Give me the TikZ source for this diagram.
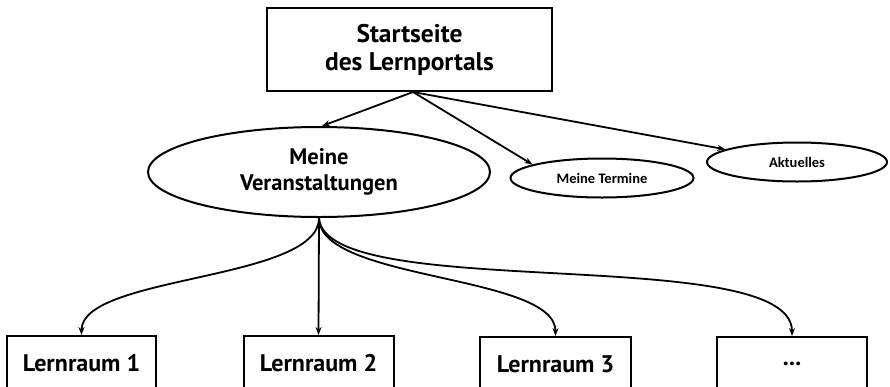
\documentclass[tikz,border=0pt]{standalone}
\usepackage{fontspec}
\setmainfont{PT Sans}
\newfontfamily\carl{Carlito}
\usetikzlibrary{shapes.geometric,arrows.meta}
\begin{document}
\begin{tikzpicture}[x=1pt,y=-1pt,
  line width=2pt,
  box/.style={draw,rectangle,inner sep=0pt,align=center,font=\bfseries\fontsize{24}{28}\selectfont},
  ell/.style={draw,ellipse,inner sep=0pt,align=center},
  small/.style={font=\carl\bfseries\fontsize{14.5}{17}\selectfont},
  arr/.style={-{Stealth[length=8pt,width=6pt]},line width=1.8pt},
]
\useasboundingbox (0,0) rectangle (890,386);
\clip (0,0) rectangle (890,386);
\node[box,minimum width=285pt,minimum height=83pt,font=\bfseries\fontsize{25.5}{28}\selectfont] (top) at (409.5,49.5) {Startseite\\des Lernportals};
\node[ell,minimum width=342pt,minimum height=90pt,font=\bfseries\fontsize{22.5}{26}\selectfont] (ve) at (319,172) {Meine\\Veranstaltungen};
\node[ell,small,minimum width=183pt,minimum height=39pt] (mt) at (602,178) {Meine Termine};
\node[ell,small,minimum width=180pt,minimum height=39pt] (ak) at (797,162) {Aktuelles};
\node[box,anchor=north,minimum width=149pt,minimum height=54pt] (l1) at (81.5,335) {Lernraum 1};
\node[box,anchor=north,minimum width=150pt,minimum height=54pt] (l2) at (318.5,335) {Lernraum 2};
\node[box,anchor=north,minimum width=151pt,minimum height=54pt] (l3) at (555.5,336) {Lernraum 3};
\node[box,anchor=north,minimum width=150pt,minimum height=54pt] (dots) at (792,336) {...};
\coordinate (s) at ([xshift=3.5pt]top.south);
\draw[arr] (s) -- ([xshift=3pt]ve.north);
\draw[arr] (s) -- (mt.169);
\draw[arr] (s) -- (ak.170);
\draw[arr] (ve.south) .. controls +(0,63) and +(0,-60) .. (l1.north);
\draw[arr] (ve.south) -- (l2.north);
\draw[arr] (ve.south) .. controls +(0,63) and +(0,-62) .. (l3.north);
\draw[arr] (ve.south) .. controls +(6,86) and +(0,-94) .. (dots.north);
\end{tikzpicture}
\end{document}
